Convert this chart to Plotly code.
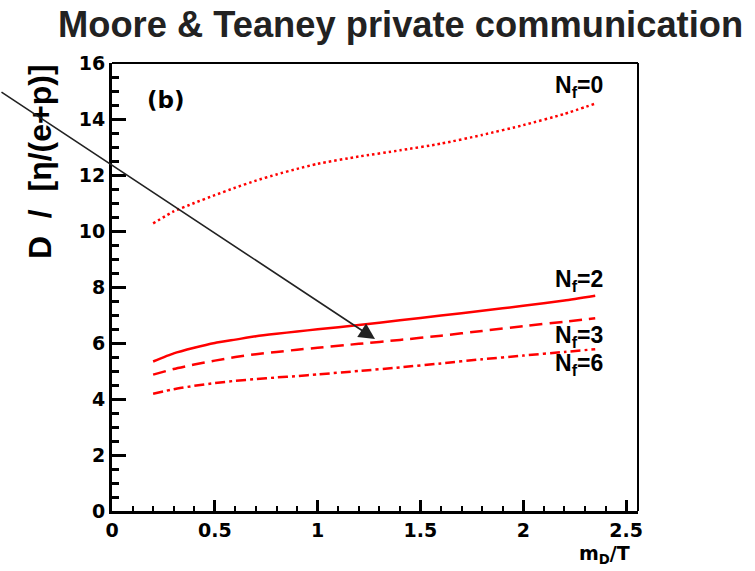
import plotly.graph_objects as go

# m_D/T grid and D / [eta/(e+p)] for each flavour number
md_over_t = [0.2, 0.3, 0.4, 0.5, 0.6, 0.7, 0.8, 0.9, 1.0, 1.2, 1.4, 1.6, 1.8, 2.0, 2.2, 2.35]
d_nf0 = [10.27, 10.7, 11.0, 11.28, 11.55, 11.8, 12.02, 12.22, 12.4, 12.66, 12.88, 13.12, 13.43, 13.78, 14.18, 14.55]
d_nf2 = [5.34, 5.63, 5.83, 6.0, 6.12, 6.24, 6.33, 6.41, 6.49, 6.64, 6.81, 6.98, 7.15, 7.33, 7.52, 7.69]
d_nf3 = [4.87, 5.07, 5.23, 5.37, 5.5, 5.6, 5.68, 5.76, 5.83, 5.97, 6.11, 6.26, 6.43, 6.6, 6.76, 6.88]
d_nf6 = [4.19, 4.35, 4.47, 4.57, 4.65, 4.71, 4.77, 4.82, 4.88, 5.0, 5.13, 5.27, 5.42, 5.55, 5.68, 5.78]

x_ticks = [0, 0.5, 1, 1.5, 2, 2.5]
x_tick_text = ["0", "0.5", "1", "1.5", "2", "2.5"]
y_ticks = [0, 2, 4, 6, 8, 10, 12, 14, 16]

# curve captions and their positions (data coords)
nf_labels = ["N<sub>f</sub>=0", "N<sub>f</sub>=2", "N<sub>f</sub>=3", "N<sub>f</sub>=6"]
nf_label_x = [2.27, 2.27, 2.27, 2.27]
nf_label_y = [15.15, 8.25, 6.25, 5.25]

ARIAL = "Arial, 'Liberation Sans', Helvetica, sans-serif"
WIDE = "'DejaVu Sans', Verdana, sans-serif"
RED = "#ff0000"

fig = go.Figure()
styles = [
    (d_nf0, "2.5px,3px"),
    (d_nf2, "solid"),
    (d_nf3, "13px,7px"),
    (d_nf6, "10px,4px,3px,4px"),
]
for ys, dash in styles:
    fig.add_trace(go.Scatter(
        x=md_over_t, y=ys, mode="lines",
        line=dict(color=RED, width=2.5, dash=dash, shape="spline", smoothing=0.5),
        showlegend=False, hoverinfo="skip",
    ))

axis_common = dict(
    showgrid=False, zeroline=False, showline=True, linecolor="black",
    ticks="inside", tickcolor="black",
    tickfont=dict(family=WIDE, size=19, color="black", weight="bold"),
)

fig.update_xaxes(
    range=[0, 2.558], tickvals=x_ticks, ticktext=x_tick_text,
    linewidth=3, ticklen=11, tickwidth=2.5,
    minor=dict(ticks="inside", dtick=0.1, ticklen=5, tickwidth=2, tickcolor="black", showgrid=False),
    **axis_common,
)
fig.update_yaxes(
    range=[0, 16], tickvals=y_ticks,
    linewidth=3, ticklen=14, tickwidth=2.5,
    minor=dict(ticks="inside", dtick=0.5, ticklen=7, tickwidth=2.5, tickcolor="black", showgrid=False),
    **axis_common,
)

# thinner top and right frame edges
fig.add_shape(type="line", xref="paper", yref="paper", x0=0, x1=1, y0=1, y1=1,
              line=dict(color="black", width=2))
fig.add_shape(type="line", xref="paper", yref="paper", x0=1, x1=1, y0=0, y1=1,
              line=dict(color="black", width=2))

annotations = []
for txt, lx, ly in zip(nf_labels, nf_label_x, nf_label_y):
    annotations.append(dict(
        x=lx, y=ly, xref="x", yref="y", text=f"<b>{txt}</b>", showarrow=False,
        font=dict(family=ARIAL, size=23, color="black"), xanchor="center", yanchor="middle",
    ))

annotations += [
    dict(x=0.262, y=14.67, xref="x", yref="y", text="<b>(b)</b>", showarrow=False,
         font=dict(family=WIDE, size=23, color="black"), xanchor="center", yanchor="middle"),
    dict(x=-0.106, y=1.085, xref="paper", yref="paper",
         text="<b>Moore &amp; Teaney private communication</b>", showarrow=False,
         font=dict(family=ARIAL, size=36.3, color="#222222"), xanchor="left", yanchor="middle"),
    dict(x=-0.137, y=0.781, xref="paper", yref="paper", text="<b>D  /  [η/(e+p)]</b>",
         textangle=-90, showarrow=False,
         font=dict(family=ARIAL, size=32, color="black"), xanchor="center", yanchor="middle"),
    dict(x=0.937, y=-0.098, xref="paper", yref="paper", text="<b>m<sub>D</sub>/T</b>",
         showarrow=False, font=dict(family=WIDE, size=19, color="black"),
         xanchor="center", yanchor="middle"),
    # pointer arrow from outside the frame onto the N_f=2 / N_f=3 band
    dict(x=1.279, y=6.14, xref="x", yref="y", ax=-378, ay=-248, axref="pixel", ayref="pixel",
         text="", showarrow=True, arrowhead=2, arrowsize=2.0, arrowwidth=1.6,
         arrowcolor="#222222", standoff=0),
]

fig.update_layout(
    width=755, height=571,
    margin=dict(l=112, r=117, t=63, b=60),
    paper_bgcolor="white", plot_bgcolor="white",
    annotations=annotations,
)

fig.write_html("out.html")
